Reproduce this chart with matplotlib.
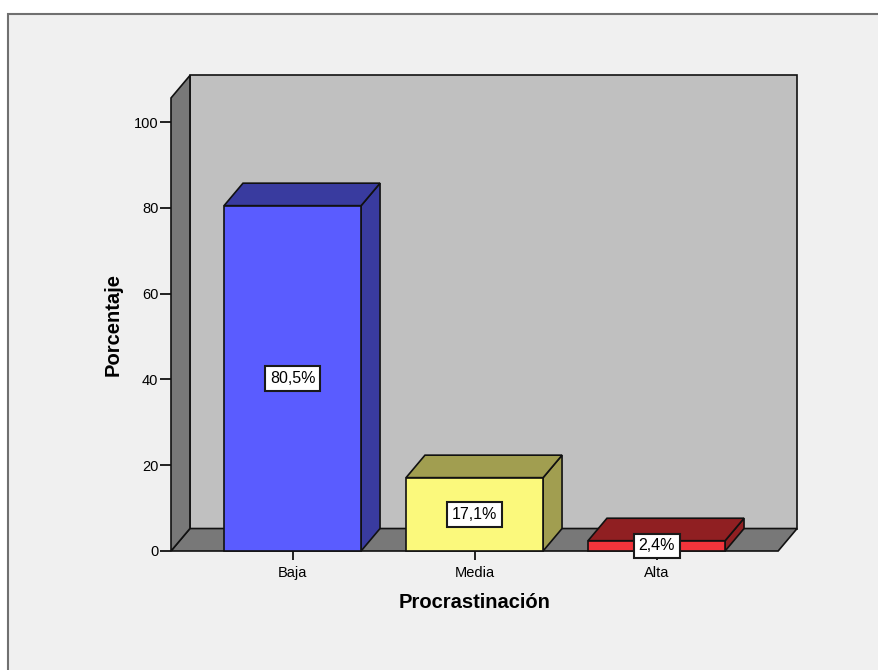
import matplotlib
matplotlib.use('Agg')
import matplotlib.pyplot as plt
from matplotlib.patches import Polygon, Rectangle

plt.rcParams['font.family'] = 'Liberation Sans'

# data
categories = ['Baja', 'Media', 'Alta']
percentages = [80.5, 17.1, 2.4]
front_colors = ['#5a5cff', '#fbf97c', '#f2343b']
shade_colors = ['#393b9f', '#a19e50', '#901f22']
y_ticks = [0, 20, 40, 60, 80, 100]

# 3d box geometry (data units)
x0, x1 = -0.668, 2.668      # front edge of the floor
wall_top = 105.6
dx, dy = 0.104, 5.24        # depth offset
width = 0.753

fig = plt.figure(figsize=(8.79, 6.70), dpi=100, facecolor='white')

# grey chart panel
fig.patches.append(Rectangle((8 / 879, -0.1), 1.2, 0.1 + 656 / 670,
                             transform=fig.transFigure, facecolor='#f0f0f0',
                             edgecolor='#707070', linewidth=1.5, zorder=-5))

ax = fig.add_axes([171 / 879, 119 / 670, 626 / 879, 476 / 670])
ax.set_xlim(x0, x0 + 626 / 182)
ax.set_ylim(0, 476 / 4.29)
ax.patch.set_visible(False)
for s in ax.spines.values():
    s.set_visible(False)


def poly(pts, fc, z):
    ax.add_patch(Polygon(pts, closed=True, facecolor=fc, edgecolor='#111111',
                         linewidth=1.2, joinstyle='miter', clip_on=False, zorder=z))


# back wall, floor, left wall
poly([(x0 + dx, dy), (x1 + dx, dy), (x1 + dx, wall_top + dy), (x0 + dx, wall_top + dy)], '#c0c0c0', 1)
poly([(x0, 0), (x1, 0), (x1 + dx, dy), (x0 + dx, dy)], '#787878', 2)
poly([(x0, 0), (x0, wall_top), (x0 + dx, wall_top + dy), (x0 + dx, dy)], '#787878', 2)

# bars
for i, (v, fc, sc) in enumerate(zip(percentages, front_colors, shade_colors)):
    l, r = i - width / 2, i + width / 2
    poly([(r, 0), (r + dx, dy), (r + dx, v + dy), (r, v)], sc, 3)
    poly([(l, v), (r, v), (r + dx, v + dy), (l + dx, v + dy)], sc, 3)
    poly([(l, 0), (r, 0), (r, v), (l, v)], fc, 4)
    ax.text(i, v / 2, ('%.1f' % v).replace('.', ',') + '%', ha='center', va='center',
            fontsize=11.5, zorder=5,
            bbox=dict(boxstyle='square,pad=0.3', facecolor='white',
                      edgecolor='#1a1a1a', linewidth=1.5))

ax.set_yticks(y_ticks)
ax.set_xticks(range(len(categories)))
ax.set_xticklabels(categories)
ax.tick_params(axis='y', length=8, width=1.3, pad=1, labelsize=10.5, color='#111111')
ax.tick_params(axis='x', length=6.5, width=1.3, pad=4, labelsize=10.5, color='#111111')

ax.set_xlabel('Procrastinación', fontsize=14.5, fontweight='bold')
ax.xaxis.set_label_coords((474.5 - 171) / 626, -0.088)
ax.set_ylabel('Porcentaje', fontsize=14.5, fontweight='bold')
ax.yaxis.set_label_coords(-0.077, (551 - 325) / 476)

fig.savefig('out.png', dpi=100, facecolor='white')
